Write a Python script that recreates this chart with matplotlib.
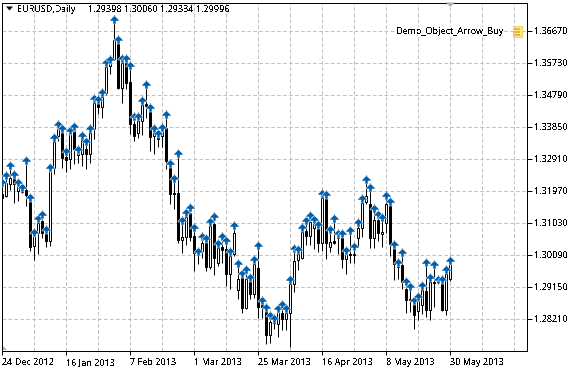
import matplotlib
matplotlib.use("Agg")
import matplotlib.pyplot as plt
from matplotlib.path import Path
from matplotlib.patches import Rectangle, Polygon
from matplotlib.transforms import offset_copy

plt.rcParams['font.family'] = ['Noto Sans', 'DejaVu Sans']
plt.rcParams['text.antialiased'] = False
plt.rcParams['lines.scale_dashes'] = False

opens = [1.3188,1.3182,1.3218,1.3232,1.3197,1.3200,1.3200,1.3165,1.3035,1.3074,1.3109,1.3071,1.3050,1.3265,1.3359,1.3367,1.3297,1.3291,1.3373,1.3303,
1.3306,1.3320,1.3306,1.3379,1.3452,1.3444,1.3485,1.3564,1.3585,1.3629,1.3500,1.3573,1.3517,1.3394,1.3367,1.3403,1.3452,1.3429,1.3359,1.3356,
1.3359,1.3382,1.3265,1.3191,1.3191,1.3053,1.3062,1.3132,1.3065,1.3012,1.3021,1.3044,1.2974,1.3100,1.2986,1.3032,1.3027,1.2953,1.3012,1.2906,
1.2941,1.2853,1.2933,1.2895,1.2971,1.2862,1.2842,1.2774,1.2809,1.2806,1.2839,1.2821,1.2839,1.2924,1.2994,1.3000,1.3080,1.3065,1.3088,1.3085,
1.3044,1.3174,1.3032,1.3050,1.3059,1.3059,1.2997,1.3012,1.3009,1.3059,1.3088,1.3165,1.3159,1.3059,1.3112,1.3071,1.3103,1.3156,1.3027,1.2980,
1.2980,1.2909,1.2880,1.2865,1.2845,1.2862,1.2903,1.2847,1.2930,1.2927,1.2924,1.2847,1.29398]
closes = [1.3176,1.3221,1.3235,1.3218,1.3212,1.3194,1.3185,1.3032,1.3065,1.3103,1.3074,1.3050,1.3256,1.3341,1.3379,1.3294,1.3288,1.3364,1.3320,1.3312,
1.3347,1.3306,1.3367,1.3455,1.3444,1.3473,1.3561,1.3573,1.3641,1.3500,1.3573,1.3514,1.3394,1.3359,1.3403,1.3450,1.3447,1.3356,1.3367,1.3350,
1.3373,1.3285,1.3188,1.3188,1.3053,1.3062,1.3121,1.3062,1.3015,1.3009,1.3044,1.2974,1.3094,1.3000,1.3030,1.3024,1.2953,1.3006,1.3074,1.2938,
1.2853,1.2938,1.2895,1.2983,1.2856,1.2856,1.2774,1.2812,1.2815,1.2842,1.2821,1.2839,1.2924,1.2991,1.3012,1.3077,1.3065,1.3106,1.3103,1.3044,
1.3176,1.3044,1.3047,1.3044,1.3065,1.2997,1.3012,1.3009,1.3012,1.3088,1.3162,1.3182,1.3059,1.3112,1.3074,1.3077,1.3159,1.3041,1.2983,1.2974,
1.2930,1.2877,1.2877,1.2833,1.2877,1.2906,1.2847,1.2930,1.2927,1.2930,1.2847,1.2953,1.29996]
highs = [1.3235,1.3256,1.3285,1.3259,1.3235,1.3221,1.3300,1.3191,1.3088,1.3129,1.3141,1.3097,1.3279,1.3367,1.3406,1.3394,1.3326,1.3388,1.3400,1.3332,
1.3373,1.3356,1.3394,1.3482,1.3479,1.3500,1.3588,1.3596,1.3714,1.3655,1.3600,1.3600,1.3579,1.3429,1.3429,1.3476,1.3523,1.3455,1.3394,1.3379,
1.3397,1.3435,1.3291,1.3247,1.3320,1.3124,1.3147,1.3162,1.3103,1.3032,1.3077,1.3071,1.3121,1.3135,1.3056,1.3077,1.3065,1.3032,1.3109,1.2997,
1.2968,1.2980,1.2956,1.3009,1.3050,1.2889,1.2868,1.2845,1.2836,1.2865,1.2877,1.2865,1.2950,1.3041,1.3038,1.3103,1.3124,1.3138,1.3127,1.3112,
1.3203,1.3200,1.3097,1.3129,1.3085,1.3085,1.3035,1.3094,1.3047,1.3118,1.3188,1.3244,1.3221,1.3159,1.3141,1.3132,1.3197,1.3179,1.3053,1.3000,
1.3030,1.2944,1.2930,1.2889,1.2900,1.2933,1.3000,1.2956,1.2994,1.2950,1.2950,1.2980,1.30060]
lows = [1.3174,1.3179,1.3200,1.3162,1.3168,1.3191,1.3153,1.3021,1.2994,1.3012,1.3059,1.3032,1.3035,1.3247,1.3344,1.3265,1.3253,1.3262,1.3276,1.3279,
1.3270,1.3262,1.3279,1.3350,1.3423,1.3411,1.3479,1.3541,1.3582,1.3497,1.3455,1.3497,1.3365,1.3344,1.3353,1.3362,1.3411,1.3315,1.3306,1.3326,
1.3326,1.3262,1.3159,1.3144,1.3044,1.3015,1.3038,1.3050,1.2962,1.2983,1.3000,1.2962,1.2968,1.2950,1.2977,1.2986,1.2918,1.2909,1.3006,1.2880,
1.2839,1.2850,1.2880,1.2883,1.2824,1.2824,1.2747,1.2750,1.2791,1.2768,1.2788,1.2788,1.2739,1.2900,1.2965,1.2997,1.3038,1.3038,1.3027,1.3018,
1.3021,1.2997,1.3018,1.3041,1.3012,1.2971,1.2953,1.2986,1.2986,1.3032,1.3062,1.3159,1.3030,1.3030,1.3050,1.3032,1.3074,1.3006,1.2936,1.2938,
1.2909,1.2839,1.2842,1.2791,1.2818,1.2836,1.2827,1.2818,1.2856,1.2924,1.2845,1.2833,1.29334]

price_ticks = [1.28210,1.29150,1.30090,1.31030,1.31970,1.32910,1.33850,1.34790,1.35730,1.36670]
grid_bars = [0,8,16,24,32,40,48,56,64,72,80,88,96,104,112,120,128]
date_bars = [0,16,32,48,64,80,96,112]
date_labels = ['24 Dec 2012','16 Jan 2013','7 Feb 2013','1 Mar 2013','25 Mar 2013','16 Apr 2013','8 May 2013','30 May 2013']
symbol = 'EURUSD,Daily'
ohlc_text = '1.29398 1.30060 1.29334 1.29996'
object_name = 'Demo_Object_Arrow_Buy'

W, H = 580, 371
FS = 6.5
fig = plt.figure(figsize=(W/100, H/100), dpi=100, facecolor='white')
L, R, T, B = 2, 527, 3, 351
ax = fig.add_axes([L/W, 1-B/H, (R-L)/W, (B-T)/H])
ax.set_xlim(-0.025, 131.225)
ax.set_ylim(1.27270, 1.37492)
PX = 0.72
ax.set_axisbelow(True)
for s in ax.spines.values():
    s.set_linewidth(PX); s.set_color('black')

grid_kw = dict(color='#C0C0C0', lw=PX, linestyle=(0, (2.6, 1.7)), dash_capstyle='butt', zorder=1)
for p in price_ticks:
    ax.axhline(p, **grid_kw)
for g in grid_bars:
    ax.axvline(g, **grid_kw)

ax.set_yticks(price_ticks)
ax.set_yticklabels([f'{p:.5f}' for p in price_ticks], fontsize=FS, color='black')
ax.yaxis.tick_right()
ax.tick_params(axis='y', length=3.6, width=PX, pad=1.6)
ax.set_xticks(date_bars)
ax.set_xticklabels(date_labels, fontsize=FS, color='black', ha='left')
ax.tick_params(axis='x', length=3, width=PX, pad=2.2)

xs = list(range(len(opens)))
ax.vlines(xs, lows, highs, color='black', lw=PX, zorder=3)
for i, (o, c) in enumerate(zip(opens, closes)):
    ax.bar(i, abs(c-o), bottom=min(o, c), width=0.5,
           facecolor='white' if c >= o else 'black', edgecolor='black', lw=PX, zorder=4)

arrow = Path([(-0.5,4.5),(0.5,4.5),(4.5,0.5),(4.5,-0.5),(1.5,-0.5),(1.5,-3.5),(-1.5,-3.5),(-1.5,-0.5),(-4.5,-0.5),(-4.5,0.5),(-0.5,4.5)], closed=True)
ax.plot(xs, highs, ls='none', marker=arrow, ms=6.5, mfc='#0060B0', mec='white', mew=0.35, zorder=5,
        transform=offset_copy(ax.transData, fig=fig, y=-5, units='dots'))

# chart furniture in pixel coordinates
def fx(x): return x/W
def fy(y): return 1-y/H
fig.add_artist(Polygon([(fx(6),fy(6.5)),(fx(13),fy(6.5)),(fx(9.5),fy(10.5))], closed=True, fc='black', ec='none', transform=fig.transFigure))
fig.text(fx(17.5), fy(9.5), symbol, fontsize=FS, va='center', ha='left')
fig.text(fx(88), fy(9.5), ohlc_text, fontsize=FS, va='center', ha='left')
fig.add_artist(Polygon([(fx(446),fy(2.5)),(fx(455),fy(2.5)),(fx(450.5),fy(7))], closed=True, fc='#B0B0B0', ec='none', transform=fig.transFigure))
fig.add_artist(Polygon([(fx(3),fy(350)),(fx(7),fy(350)),(fx(3),fy(346))], closed=True, fc='#B0B0B0', ec='none', transform=fig.transFigure))
fig.text(fx(396), fy(32), object_name, fontsize=FS, va='center', ha='left',
         bbox=dict(fc='white', ec='none', pad=0.5))
fig.add_artist(Rectangle((fx(512.5),fy(37)), 9/W, 11/H, fc='#FCE98A', ec='#F0D060', lw=0.7, transform=fig.transFigure))
for y in (29, 32, 35):
    fig.add_artist(Rectangle((fx(514),fy(y+0.5)), 6/W, 1/H, fc='#E0B850', ec='none', transform=fig.transFigure))

fig.savefig('out.png', dpi=100, facecolor='white')
